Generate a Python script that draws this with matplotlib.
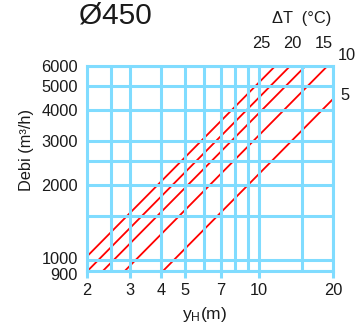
import matplotlib
matplotlib.use('Agg')
import numpy as np
import matplotlib.pyplot as plt
import matplotlib.transforms as mtransforms
from matplotlib.ticker import FixedLocator, NullFormatter

plt.rcParams['font.family'] = ['Liberation Sans', 'DejaVu Sans']

# delta T curves: Q = k * yH
dT = [25, 20, 15, 10, 5]
k = [515, 448, 388, 316, 221]

x_major = [2, 3, 4, 5, 7, 10, 20]
x_minor = [2.5, 6, 8, 9, 15]
y_major = [900, 1000, 2000, 3000, 4000, 5000, 6000]
y_minor = [1500, 2500]

grid_c = '#80dcff'
txt_c = '#1a1a1a'

fig = plt.figure(figsize=(3.64, 3.29), dpi=100)
ax = fig.add_axes([87/364, 1-271/329, 246/364, 205/329])
ax.set_xscale('log')
ax.set_yscale('log')

yh = np.array([2.0, 20.0])
for kk in k:
    ax.plot(yh, kk*yh, color='red', lw=1.3, zorder=1.5)

ax.set_xlim(2, 20)
ax.set_ylim(900, 6000)

ax.xaxis.set_major_locator(FixedLocator(x_major))
ax.xaxis.set_minor_locator(FixedLocator(x_minor))
ax.set_xticklabels([str(v) for v in x_major])
ax.xaxis.set_minor_formatter(NullFormatter())
ax.yaxis.set_major_locator(FixedLocator(y_major))
ax.yaxis.set_minor_locator(FixedLocator(y_minor))
ax.set_yticklabels([str(v) for v in y_major])
ax.yaxis.set_minor_formatter(NullFormatter())

ax.tick_params(axis='x', which='major', length=5, width=2.2, color=grid_c,
               labelsize=11.8, labelcolor=txt_c, pad=3.5)
ax.tick_params(axis='x', which='minor', length=0)
ax.tick_params(axis='y', which='both', length=0, labelsize=11.8,
               labelcolor=txt_c, pad=6.5)

# 900 / 1000 labels sit tight together, nudge apart a little
ylabs = ax.get_yticklabels()
ylabs[0].set_transform(ylabs[0].get_transform() +
                       mtransforms.ScaledTranslation(0, -2.5/100, fig.dpi_scale_trans))
ylabs[1].set_transform(ylabs[1].get_transform() +
                       mtransforms.ScaledTranslation(0, 1.5/100, fig.dpi_scale_trans))

ax.grid(True, which='both', color=grid_c, lw=2.2)
ax.set_axisbelow(False)
for s in ax.spines.values():
    s.set_color(grid_c)
    s.set_linewidth(2.2)

fig.text(27/364, 1-150/329, 'Debi (m³/h)', rotation=90, ha='center', va='center',
         fontsize=11.8, color=txt_c)
fig.text(205/364, 1-315/329, r'$\mathregular{y_H}$(m)', ha='center', va='center',
         fontsize=12.5, color=txt_c)
fig.text(115/364, 1-15/329, 'Ø450', ha='center', va='center', fontsize=21.5, color=txt_c)
fig.text(302/364, 1-18/329, 'ΔT  (°C)', ha='center', va='center', fontsize=11.8, color=txt_c)

lab_pos = [(261, 44), (292, 44), (324, 44), (347, 56), (345, 95)]
for t, (px, py) in zip(dT, lab_pos):
    fig.text(px/364, 1-py/329, str(t), ha='center', va='center', fontsize=11.8, color=txt_c)

plt.savefig('out.png', dpi=100)
